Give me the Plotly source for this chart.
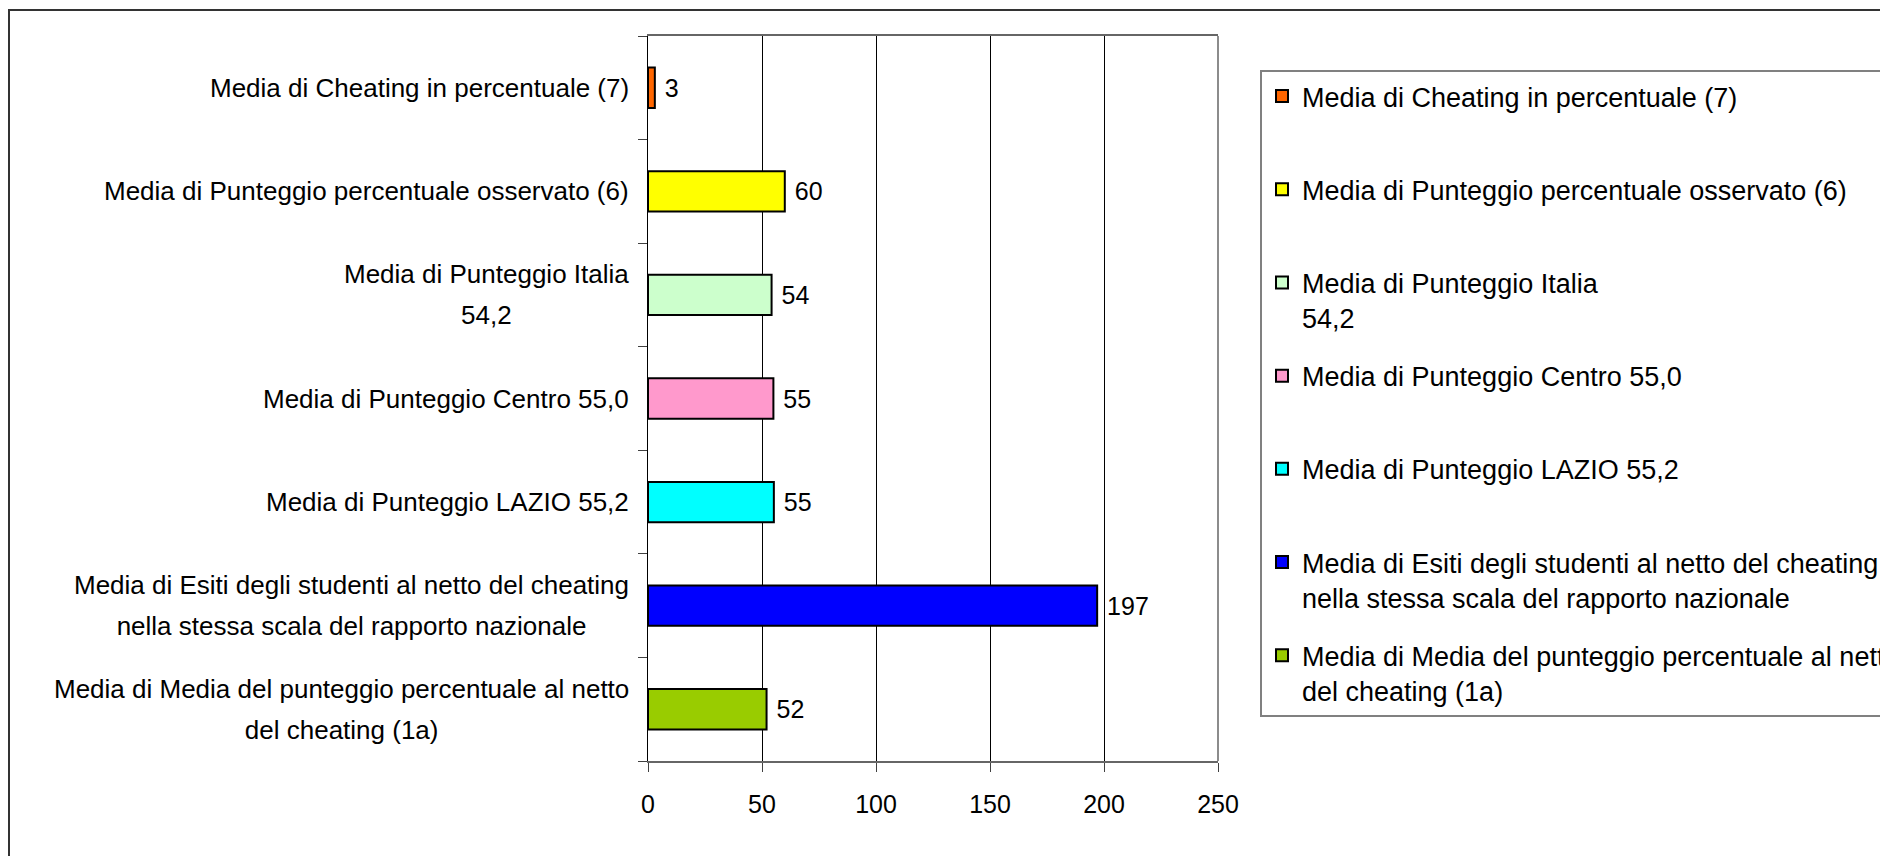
import plotly.graph_objects as go

# series, in legend order (top bar first)
names = [
    "Media di Cheating in percentuale (7)",
    "Media di Punteggio percentuale osservato (6)",
    "Media di Punteggio Italia<br>54,2",
    "Media di Punteggio Centro 55,0",
    "Media di Punteggio LAZIO 55,2",
    "Media di Esiti degli studenti al netto del cheating<br>nella stessa scala del rapporto nazionale",
    "Media di Media del punteggio percentuale al netto<br>del cheating (1a)",
]
values = [3, 60, 54.2, 55.0, 55.2, 197, 52]
colors = ["#FF6600", "#FFFF00", "#CCFFCC", "#FF99CC", "#00FFFF", "#0000FF", "#99CC00"]
x_ticks = [0, 50, 100, 150, 200, 250]

FONT = "Liberation Sans, Arial, sans-serif"

W, H = 1888, 856
L, R, T, B = 640, 1210, 28, 753  # plot area in px (page adds 8px body margin)

px_x = lambda p: (p - L) / (R - L)
px_y = lambda p: (B - p) / (B - T)

fig = go.Figure()
for i, (n, v, c) in enumerate(zip(names, values, colors)):
    # pad one-line legend names so every entry takes two lines
    legend_name = n if "<br>" in n else n + "<br> "
    fig.add_trace(go.Bar(
        y=[n], x=[v], orientation="h", name=legend_name,
        legendgroup="g%d" % i,
        width=0.39,
        marker=dict(color=c, line=dict(color="black", width=2)),
        text=[v], texttemplate=" %{x:.0f}", textposition="outside",
        textfont=dict(family=FONT, size=25, color="black"),
        constraintext="none", cliponaxis=False,
    ))

# category labels: centred lines, glyphs at 26px but line spacing of a ~31px font
for n in names:
    txt = "<br>".join("<span style='font-size:26px'>%s</span>" % s for s in n.split("<br>"))
    fig.add_annotation(
        x=px_x(623), xref="paper", y=n, yref="y",
        text=txt, showarrow=False, xanchor="right", yanchor="middle", align="center",
        font=dict(family=FONT, size=31.5, color="black"),
    )

# outer chart border (runs off the right/bottom of the picture)
fig.add_shape(type="rect", xref="paper", yref="paper",
              x0=px_x(1), x1=px_x(1920), y0=px_y(2), y1=px_y(900),
              line=dict(color="#333333", width=2), fillcolor="rgba(0,0,0,0)", layer="below")
# right border of the plot area
fig.add_shape(type="line", xref="paper", yref="paper", x0=1, x1=1, y0=0, y1=1,
              line=dict(color="#8c8c8c", width=2))

fig.update_layout(
    width=W, height=H,
    margin=dict(l=L, r=W - R, t=T, b=H - B, autoexpand=False),
    barmode="overlay",
    plot_bgcolor="white", paper_bgcolor="white",
    showlegend=True,
    legend=dict(
        x=px_x(1252), y=px_y(62), xanchor="left", yanchor="top",
        font=dict(family=FONT, size=27, color="black"),
        bordercolor="#808080", borderwidth=2, bgcolor="white",
        traceorder="grouped", tracegroupgap=20, valign="top",
    ),
    xaxis=dict(
        range=[0, 250], tickvals=x_ticks, showgrid=True, gridcolor="black", gridwidth=1,
        showline=True, linecolor="#666666", linewidth=2, mirror=True,
        ticks="outside", ticklen=9, tickcolor="#404040", ticklabelstandoff=11,
        tickfont=dict(family=FONT, size=25, color="black"), zeroline=False,
    ),
    yaxis=dict(
        categoryorder="array", categoryarray=names[::-1],
        showticklabels=False, showgrid=False, zeroline=False,
        showline=True, linecolor="black", linewidth=1,
        ticks="outside", tickson="boundaries", ticklen=9, tickcolor="#404040",
    ),
)

fig.write_html("out.html")
